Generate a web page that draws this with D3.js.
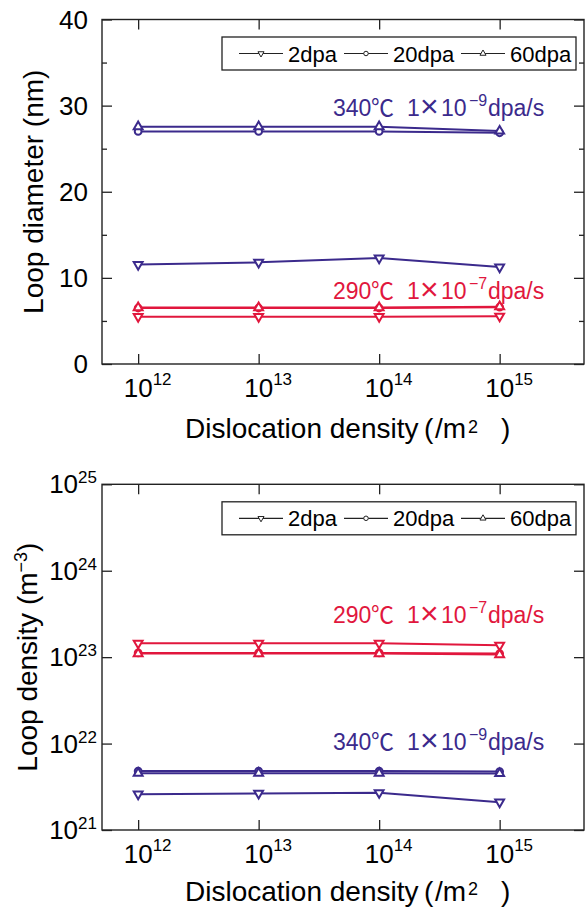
<!DOCTYPE html>
<html>
<head>
<meta charset="utf-8">
<script src="https://cdn.jsdelivr.net/npm/d3@7"></script>
<style>
body { margin: 0; background: #fff; }
svg { display: block; font-family: "Liberation Sans", Arial, sans-serif; }
.cjk { font-family: "Noto Sans CJK JP", sans-serif; }
</style>
</head>
<body>
<div class="chart"></div>
<script>
// x values: dislocation density (/m2)
var densities = [1e12, 1e13, 1e14, 1e15];
var xTickExps = [12, 13, 14, 15];
var doses = ["2dpa", "20dpa", "60dpa"];

// loop diameter (nm)
var diam340_2dpa = [11.55, 11.8, 12.3, 11.25];
var diam340_20dpa = [27.0, 27.0, 27.0, 26.85];
var diam340_60dpa = [27.55, 27.55, 27.55, 27.05];
var diam290_2dpa = [5.5, 5.5, 5.5, 5.55];
var diam290_20dpa = [6.5, 6.5, 6.5, 6.6];
var diam290_60dpa = [6.55, 6.55, 6.55, 6.65];
var diamTicks = [0, 10, 20, 30, 40];
var diamMinor = [5, 15, 25, 35];

// loop density (m-3)
var dens340_2dpa = [2.6e21, 2.65e21, 2.7e21, 2.1e21];
var dens340_20dpa = [4.8e21, 4.8e21, 4.8e21, 4.75e21];
var dens340_60dpa = [4.55e21, 4.55e21, 4.55e21, 4.5e21];
var dens290_2dpa = [1.45e23, 1.45e23, 1.45e23, 1.37e23];
var dens290_20dpa = [1.12e23, 1.12e23, 1.12e23, 1.1e23];
var dens290_60dpa = [1.1e23, 1.1e23, 1.1e23, 1.07e23];
var densTickExps = [21, 22, 23, 24, 25];

const purple = "#3b2a8c";
const red = "#e1173d";
const left = 102, right = 584;

const svg = d3.select('.chart')
	.append('svg')
	.attr('width', 587)
	.attr('height', 911);

const x = d3.scaleLog().domain([Math.pow(10, 11.7), Math.pow(10, 15.7)]).range([left, right]);

function markerPath(dose, small) {
	if (dose == "20dpa") return d3.symbol(d3.symbolCircle, small ? 16 : 36)();
	return d3.symbol(d3.symbolTriangle, small ? 16 : 34)();
}
function markerRot(dose) {
	return dose == "2dpa" ? " rotate(180)" : "";
}

function drawPanel(top, bottom, y, series, notes, ylabel) {
	const g = svg.append('g');
	// frame
	g.append('rect')
		.attr('x', left).attr('y', top)
		.attr('width', right - left).attr('height', bottom - top)
		.attr('fill', 'none').attr('stroke', '#222').attr('stroke-width', 1.4);

	// inward ticks, all four sides
	[[d3.axisBottom(x), bottom], [d3.axisTop(x), top]].forEach(function(t) {
		g.append('g')
			.attr('transform', `translate(0,${t[1]})`)
			.call(t[0].tickValues(densities).tickSize(-10).tickSizeOuter(0).tickFormat(''))
			.call(a => a.select('.domain').remove())
			.selectAll('line').attr('stroke', '#222').attr('stroke-width', 1.3);
	});
	[[d3.axisLeft(y), left], [d3.axisRight(y), right]].forEach(function(t) {
		g.append('g')
			.attr('transform', `translate(${t[1]},0)`)
			.call(t[0].tickValues(ylabel.ticks).tickSize(-10).tickSizeOuter(0).tickFormat(''))
			.call(a => a.select('.domain').remove())
			.selectAll('line').attr('stroke', '#222').attr('stroke-width', 1.3);
		if (ylabel.minor) {
			g.append('g')
				.attr('transform', `translate(${t[1]},0)`)
				.call(t[0].tickValues(ylabel.minor).tickSize(-5).tickSizeOuter(0).tickFormat(''))
				.call(a => a.select('.domain').remove())
				.selectAll('line').attr('stroke', '#222').attr('stroke-width', 1.3);
		}
	});

	// x tick labels
	g.selectAll('text.xbase')
		.data(xTickExps)
		.enter()
		.append('text')
		.attr('x', d => x(Math.pow(10, d)))
		.attr('y', bottom + 33.3)
		.attr('text-anchor', 'middle')
		.attr('font-size', '26px')
		.text('10');
	g.selectAll('text.xsup')
		.data(xTickExps)
		.enter()
		.append('text')
		.attr('x', d => x(Math.pow(10, d)) + 14.5)
		.attr('y', bottom + 21)
		.attr('font-size', '17px')
		.text(d => d);

	// y tick labels
	ylabel.draw(g);

	// axis titles
	const tb = bottom + ylabel.xtitleY;
	const xt = g.append('text')
		.attr('y', tb)
		.attr('font-size', '28px');
	xt.append('tspan').attr('x', 185).text('Dislocation density');
	xt.append('tspan').attr('x', 424).text('(');
	xt.append('tspan').attr('x', 435).text('/m');
	xt.append('tspan').attr('x', 468).attr('y', tb - 5.5).attr('font-size', '18px').text('2');
	xt.append('tspan').attr('x', 501).attr('y', tb).text(')');

	const yt = g.append('text')
		.attr('transform', `translate(${ylabel.titleX},${(top + bottom) / 2}) rotate(-90)`)
		.attr('text-anchor', 'middle')
		.attr('font-size', '28px');
	yt.append('tspan').text(ylabel.title + ' (');
	if (ylabel.titleSup) {
		yt.append('tspan').text('m');
		yt.append('tspan').attr('dy', -10).attr('font-size', '18px').text(ylabel.titleSup);
		yt.append('tspan').attr('dy', 10).text(')');
	} else {
		yt.append('tspan').text('nm)');
	}

	// series
	const line = d3.line()
		.x((d, i) => x(densities[i]))
		.y(d => y(d));
	series.forEach(function(s) {
		g.append('path')
			.attr('d', line(s.values))
			.attr('fill', 'none')
			.attr('stroke', s.color)
			.attr('stroke-width', 2);
	});
	series.forEach(function(s) {
		g.selectAll(null)
			.data(s.values)
			.enter()
			.append('path')
			.attr('d', markerPath(s.dose))
			.attr('transform', (d, i) => `translate(${x(densities[i])},${y(d)})` + markerRot(s.dose))
			.attr('fill', '#fff')
			.attr('stroke', s.color)
			.attr('stroke-width', 2);
	});

	// annotations
	notes.forEach(function(n) {
		const t = g.append('text')
			.attr('y', n.y)
			.attr('fill', n.color)
			.attr('font-size', '23px');
		t.append('tspan').attr('x', 333).text(n.temp);
		t.append('tspan').attr('x', 371).attr('class', 'cjk').attr('font-size', '23px').text('℃');
		t.append('tspan').attr('x', 407).text('1');
		t.append('tspan').attr('x', 420).attr('font-size', '32px').attr('y', n.y + 1).text('×');
		t.append('tspan').attr('x', 441).attr('y', n.y).text('10');
		t.append('tspan').attr('x', 469).attr('y', n.y - 10).attr('font-size', '16px').text(n.exp);
		t.append('tspan').attr('x', 488).attr('y', n.y).text('dpa/s');
	});

	// legend
	const ly = top + 17.5;
	g.append('rect')
		.attr('x', 222).attr('y', ly)
		.attr('width', 354).attr('height', 33)
		.attr('fill', '#fff').attr('stroke', '#222').attr('stroke-width', 1.3);
	const legX = [239, 344, 461];
	const lg = g.selectAll('g.leg')
		.data(doses)
		.enter()
		.append('g')
		.attr('transform', (d, i) => `translate(${legX[i]},${ly + 16.5})`);
	lg.append('line')
		.attr('x1', 0).attr('x2', 44)
		.attr('stroke', '#222').attr('stroke-width', 1.2);
	lg.append('path')
		.attr('d', d => markerPath(d, true))
		.attr('transform', d => 'translate(22,0)' + markerRot(d))
		.attr('fill', '#fff').attr('stroke', '#222').attr('stroke-width', 1);
	lg.append('text')
		.attr('x', 49)
		.attr('y', 8)
		.attr('font-size', '22px')
		.text(d => d);
}

// top panel: loop diameter
const y1 = d3.scaleLinear().domain([0, 40]).range([364, 19.5]);
drawPanel(19.5, 364, y1, [
	{dose: "2dpa", color: red, values: diam290_2dpa},
	{dose: "20dpa", color: red, values: diam290_20dpa},
	{dose: "60dpa", color: red, values: diam290_60dpa},
	{dose: "2dpa", color: purple, values: diam340_2dpa},
	{dose: "20dpa", color: purple, values: diam340_20dpa},
	{dose: "60dpa", color: purple, values: diam340_60dpa}
], [
	{temp: "340", exp: "−9", color: purple, y: 116},
	{temp: "290", exp: "−7", color: red, y: 299}
], {
	ticks: diamTicks,
	minor: diamMinor,
	title: 'Loop diameter',
	titleX: 43,
	xtitleY: 74.3,
	draw: function(g) {
		g.selectAll('text.yl')
			.data(diamTicks)
			.enter()
			.append('text')
			.attr('x', 88)
			.attr('y', d => y1(d))
			.attr('dy', '0.35em')
			.attr('text-anchor', 'end')
			.attr('font-size', '26px')
			.text(d => d);
	}
});

// bottom panel: loop density
const y2 = d3.scaleLog().domain([1e21, 1e25]).range([830, 484.3]);
drawPanel(484.3, 830, y2, [
	{dose: "2dpa", color: red, values: dens290_2dpa},
	{dose: "20dpa", color: red, values: dens290_20dpa},
	{dose: "60dpa", color: red, values: dens290_60dpa},
	{dose: "2dpa", color: purple, values: dens340_2dpa},
	{dose: "20dpa", color: purple, values: dens340_20dpa},
	{dose: "60dpa", color: purple, values: dens340_60dpa}
], [
	{temp: "290", exp: "−7", color: red, y: 622.7},
	{temp: "340", exp: "−9", color: purple, y: 750}
], {
	ticks: densTickExps.map(e => Math.pow(10, e)),
	minor: null,
	title: 'Loop density',
	titleSup: '−3',
	titleX: 37,
	xtitleY: 70.7,
	draw: function(g) {
		const t = g.selectAll('text.yl')
			.data(densTickExps)
			.enter()
			.append('text')
			.attr('x', 97)
			.attr('y', d => y2(Math.pow(10, d)) + 9)
			.attr('text-anchor', 'end')
			.attr('font-size', '26px');
		t.append('tspan').text('10');
		t.append('tspan').attr('dy', -10).attr('font-size', '17px').text(d => d);
	}
});
</script>
</body>
</html>
